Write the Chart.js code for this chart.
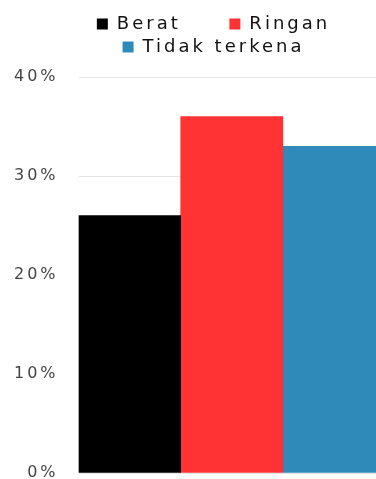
<!DOCTYPE html>
<html>
<head>
<meta charset="utf-8">
<script src="https://cdn.jsdelivr.net/npm/chart.js@4"></script>
<style>
  html, body { margin: 0; padding: 0; overflow: hidden; background: #fff; }
  #wrap { width: 400px; height: 479px; }
  canvas { display: block; }
</style>
</head>
<body>
<div id="wrap"><canvas id="chart1" width="400" height="479"></canvas></div>
<script>
  // Data
  const categories = [''];
  const seriesNames = ['Berat     ', 'Ringan', 'Tidak terkena'];
  const seriesValues = [[26], [36], [33]];
  const seriesColors = ['#000000', '#ff3333', '#2e8ab8'];
  const yTicks = [0, 10, 20, 30, 40];

  // letter spacing for the wide geometric look + legend tweaks
  const spacing = {
    id: 'spacing',
    beforeInit(chart) {
      const fit = chart.legend.fit;
      chart.legend.fit = function () { fit.call(this); this.height += 11; };
    },
    beforeLayout(chart) { chart.ctx.letterSpacing = '3px'; },
    afterLayout(chart) {
      chart.legend.left += 24;
      chart.legend.right += 24;
    },
    beforeDraw(chart) { chart.ctx.letterSpacing = '3px'; }
  };

  const chartConfig = {
    type: 'bar',
    data: {
      labels: categories,
      datasets: seriesNames.map((name, i) => ({
        label: name,
        data: seriesValues[i],
        backgroundColor: seriesColors[i],
        borderWidth: 0,
        categoryPercentage: 1,
        barPercentage: 1,
      })),
    },
    options: {
      responsive: false,
      animation: false,
      layout: { padding: { left: -6, right: 15, top: 10, bottom: 0 } },
      plugins: {
        legend: {
          position: 'top',
          labels: {
            font: { family: 'DejaVu Sans', size: 18 },
            color: '#111',
            boxWidth: 11,
            boxHeight: 11,
            padding: 5,
          },
        },
        tooltip: { enabled: false },
      },
      scales: {
        x: { display: false },
        y: {
          min: 0,
          max: 40,
          afterBuildTicks(axis) { axis.ticks = yTicks.map(v => ({ value: v })); },
          afterFit(axis) { axis.paddingTop = 0; axis.paddingBottom = 6; },
          border: { display: false },
          grid: { color: '#e6e6e6', drawTicks: false },
          ticks: {
            padding: 20,
            color: '#444',
            font: { family: 'DejaVu Sans', size: 16 },
            callback: v => v + '%',
          },
        },
      },
    },
    plugins: [spacing],
  };

  const ctx1 = document.getElementById('chart1').getContext('2d');
  new Chart(ctx1, chartConfig);
</script>
</body>
</html>
